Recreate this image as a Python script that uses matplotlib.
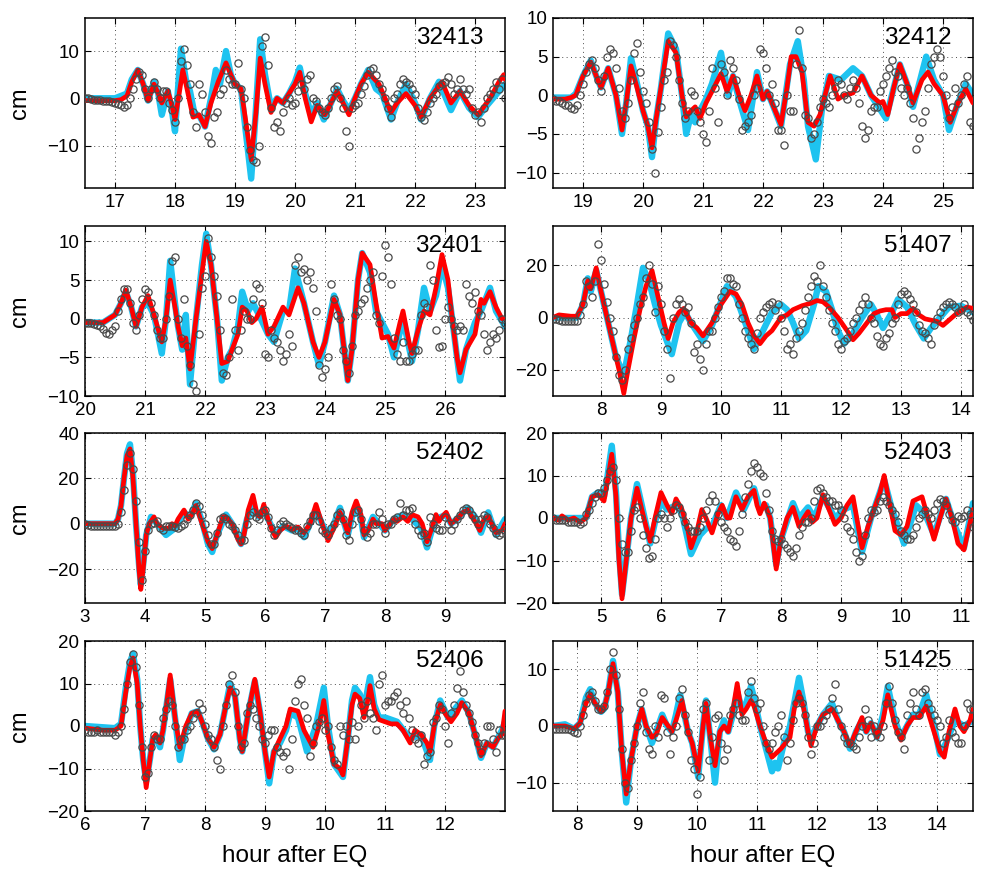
import numpy as np
import matplotlib
matplotlib.use("Agg")
import matplotlib.pyplot as plt

plt.rcParams['font.family'] = ['Liberation Sans', 'DejaVu Sans']

# ---------------- DATA ----------------
stations = ["32413", "32412", "32401", "51407", "52402", "52403", "52406", "51425"]
xlims = [(16.5, 23.5), (18.5, 25.5), (20, 27), (7.2, 14.2), (3, 10), (4.2, 11.2), (6, 13), (7.6, 14.6)]
ylims = [(-19, 17), (-12, 10), (-10, 12), (-30, 35), (-35, 40), (-20, 20), (-20, 20), (-15, 15)]
xticks = [list(range(17, 24)), list(range(19, 26)), list(range(20, 27)), list(range(8, 15)),
          list(range(3, 10)), list(range(5, 12)), list(range(6, 13)), list(range(8, 15))]
yticks = [[-10, 0, 10], [-10, -5, 0, 5, 10], [-10, -5, 0, 5, 10], [-20, 0, 20],
          [-20, 0, 20, 40], [-20, -10, 0, 10, 20], [-20, -10, 0, 10, 20], [-10, 0, 10]]

obs_dt = 0.05  # hours between plotted observation samples
obs_start = [16.5, 18.5, 20.0, 7.2, 3.0, 4.2, 6.0, 7.6]

# --- 32413 ---
red_t_32413 = [16.5, 16.8, 17.0, 17.1, 17.2, 17.28, 17.38, 17.47, 17.55, 17.65, 17.72, 17.78, 17.88, 17.94, 18.0, 18.07, 18.13, 18.2, 18.3, 18.4, 18.5, 18.6, 18.72, 18.85, 18.93, 19.0, 19.1, 19.17, 19.27, 19.35, 19.42, 19.5, 19.6, 19.7, 19.8, 19.9, 20.0, 20.08, 20.17, 20.27, 20.37, 20.5, 20.6, 20.7, 20.8, 20.9, 21.0, 21.1, 21.22, 21.4, 21.5, 21.6, 21.7, 21.85, 22.0, 22.1, 22.25, 22.45, 22.6, 22.75, 22.9, 23.05, 23.25, 23.4, 23.48, 23.5]
red_v_32413 = [-0.5, -0.5, -0.5, -0.3, 0.5, 3.5, 6, 3, -0.5, 3, 1, -1, 1.5, -1, -4.5, 1, 6, 2, -4, -3.5, -6, -1, 3.5, 7.5, 5, 3, 2, -4, -13, -3, 8.5, 3, -3, 0, -1, 1, 3, 5.5, 0, -5, -1.5, -3.5, -1, 1.5, -1, -3.5, 0, 3, 5.5, 3, 0, -3, -1, 1, -1.5, -4, 0, 3.5, -1, 1.5, -1.5, -3.5, 0, 3.5, 5, 4]
cyan_t_32413 = [16.5, 17.0, 17.1, 17.2, 17.28, 17.38, 17.47, 17.55, 17.65, 17.72, 17.78, 17.88, 17.94, 18.0, 18.05, 18.1, 18.18, 18.25, 18.32, 18.42, 18.5, 18.6, 18.68, 18.75, 18.85, 18.93, 19.0, 19.1, 19.17, 19.27, 19.34, 19.42, 19.5, 19.6, 19.7, 19.8, 19.9, 20.0, 20.08, 20.17, 20.27, 20.37, 20.48, 20.6, 20.7, 20.8, 20.9, 21.0, 21.1, 21.22, 21.35, 21.45, 21.6, 21.7, 21.85, 22.0, 22.1, 22.25, 22.4, 22.6, 22.75, 22.9, 23.05, 23.2, 23.3, 23.5]
cyan_v_32413 = [0, 0, 0.5, 1, 4, 6, 3, -0.5, 3.5, 1, -3.5, 1.5, -2, -7, 2, 10.5, 4, 1.5, -3, -4, -6, 0, 6, 3, 10, 5, 3, 2, -6, -17, -4, 12.5, 5, -2, 0, -1, 1, 3.5, 6.5, 1, -3.5, -1, -4.5, -1, 2, -0.5, -2.5, 0, 3, 6, 2, 1, -4.5, -1, 3, -1, -4.5, 0, 3.5, -2.5, 1.5, -2, -4, -1.5, 0, 3]
obs_32413 = [0, 0, -0.2, -0.3, -0.3, -0.4, -0.5, -0.5, -0.6, -0.8,
             -1, -1.3, -1.5, -1.8, -1.5, 0, 2, 4, 5.5, 5,
             2, 0, 2, 3.5, 2, 0, 1.5, 1.5, -1, -2.5,
             -5, 0, 8, 10.5, 7, 3, -3, -6, 3, 1,
             -3, -8, -9.5, -4, -3, 1, 2, 6, 4, 3,
             3, 7.5, 2, 0, -6, -11, -13, -13.5, -10, 11,
             13, 7, -2, -6, -5, -7, -3, -1, 0, -1.5,
             -1, 1.5, 3, 2, 4, 5, 0, -0.5, -2, -3,
             -3.5, -2, 0, 2, 2.5, 0, -2, -7, -10, -2,
             -1.5, -1, 1, 2.5, 5, 6, 6.5, 5, 3, 2,
             0, -2, -4, 0, 1, 3, 4, 3.5, 3, 2,
             1, -2, -4, -4.5, -3, -1, 0, 1, 2.5, 3,
             3.5, 4.5, 3, 1, 2, 4, 2, 1, 2, -2,
             -3.5, -3, -5, -2, 0, 1, 2, 3.5, 2, 4,
             0]

# --- 32412 ---
red_t_32412 = [18.5, 18.7, 18.8, 18.88, 19.0, 19.13, 19.22, 19.3, 19.42, 19.55, 19.65, 19.72, 19.8, 19.9, 20.0, 20.08, 20.15, 20.22, 20.3, 20.42, 20.55, 20.65, 20.72, 20.8, 20.87, 20.95, 21.05, 21.15, 21.3, 21.4, 21.5, 21.6, 21.7, 21.8, 21.9, 22.0, 22.07, 22.15, 22.3, 22.4, 22.47, 22.55, 22.65, 22.75, 22.85, 22.95, 23.05, 23.12, 23.25, 23.35, 23.5, 23.65, 23.8, 23.95, 24.0, 24.08, 24.18, 24.28, 24.4, 24.5, 24.65, 24.75, 24.85, 25.0, 25.12, 25.25, 25.38, 25.5]
red_v_32412 = [-0.5, -0.5, -0.3, 0, 2.5, 4.3, 2.5, 1, 3.5, 0, -4.5, -1, 3.8, 1, -2, -4, -6.8, -3, 1, 7, 5.5, 0, -2.8, -2, -1.5, -3, -1, 0.5, 2.8, 0.5, 2.5, 0, -2, 0, 2.5, -0.5, 0.5, -1, -3.8, 1, 5, 5, 3, -3.5, -4, -2.5, 0.5, 2.5, -0.5, 0, 0.3, 2.5, 0, -1, -0.8, -2.5, 1, 4, 1.5, -1, 2, 3, 1.5, 0, -3.5, -1, 0.8, -1]
cyan_t_32412 = [18.5, 18.8, 18.88, 19.0, 19.13, 19.22, 19.3, 19.42, 19.55, 19.65, 19.72, 19.8, 19.9, 20.0, 20.08, 20.15, 20.22, 20.3, 20.42, 20.55, 20.65, 20.72, 20.8, 20.87, 20.95, 21.05, 21.15, 21.3, 21.42, 21.5, 21.6, 21.75, 21.9, 22.0, 22.07, 22.15, 22.3, 22.45, 22.58, 22.68, 22.75, 22.88, 22.98, 23.1, 23.3, 23.5, 23.65, 23.8, 24.05, 24.18, 24.28, 24.4, 24.5, 24.62, 24.72, 24.85, 25.0, 25.1, 25.25, 25.38, 25.5]
cyan_v_32412 = [-0.3, -0.3, 0.2, 2.5, 4.5, 2.5, 1, 3.5, 0, -5, -1, 4.8, 1.5, -2, -4, -8, -3, 1, 8, 6, 0, -5, -2.5, -3.5, -2, -0.5, 1.5, 5.5, 0, 2.5, -0.5, -4.5, 3, -0.5, 0.5, -1, -4, 4, 7, 2, -4, -8.3, -2, 2.5, 2, 3.5, 2.5, 0, -3, 1, 4, 1.5, -1.5, 2, 5, 2, 0, -4.5, -1, 1.5, 0]
obs_32412 = [-0.5, -0.7, -0.8, -1, -1.2, -1.3, -1.7, -1.8, -1.3, 0,
             1.5, 3, 4, 4.5, 3.5, 2, 0.5, 2.5, 5, 6,
             5.5, 3.5, 1, -2, -3, -1, 2, 5.5, 6.8, 3,
             0.5, -1, -3.5, -7, -10, -4.7, -1.5, 2, 3, 7,
             6.5, 5, 2, -1, -3, -2, 0.5, 0, -2, -3.5,
             -5, -6, -2, 3.5, 1, -3.5, 4, 3, 0, 4.5,
             3.5, 2, -0.5, -4.5, -4, -3.5, -2.5, 0, 1, 6,
             5.5, 3.5, 0, 1.5, -1, -4.5, -4.5, -6.5, 0, -2,
             -2, 4, 8.5, 3.5, -2.5, -3, -5.5, -5, -3.5, -1.5,
             -0.5, -1, -1.5, 0, 1, 2, 1.5, 0, -0.5, 1,
             2, 1, -1, -4, -5.5, -4.5, -2, -1.5, -1.5, 0.5,
             1.5, 2.5, 3.5, 4.5, 3, 2.5, 1, 0, 1, -1,
             -3, -7, -5.5, -3.5, -2, 1, 4, 5, 6, 5,
             2.5, 0, -3, -1.5, 1, -1, 0, 1.5, 2.5, -3.5,
             -4]

# --- 32401 ---
red_t_32401 = [20.0, 20.3, 20.4, 20.5, 20.6, 20.68, 20.77, 20.85, 20.95, 21.05, 21.15, 21.28, 21.35, 21.42, 21.5, 21.55, 21.62, 21.68, 21.75, 21.85, 21.95, 22.02, 22.1, 22.2, 22.28, 22.38, 22.45, 22.55, 22.62, 22.7, 22.78, 22.85, 22.95, 23.05, 23.15, 23.3, 23.4, 23.55, 23.65, 23.8, 23.9, 24.0, 24.15, 24.25, 24.38, 24.45, 24.55, 24.62, 24.75, 24.85, 24.95, 25.05, 25.15, 25.25, 25.3, 25.4, 25.45, 25.55, 25.65, 25.75, 25.85, 25.95, 26.05, 26.12, 26.2, 26.25, 26.35, 26.5, 26.6, 26.65, 26.75, 26.85, 26.95, 27.0]
red_v_32401 = [-0.5, -0.5, 0, 0.5, 2, 3.7, 1.5, -1, 1.5, 3, 0.5, -3, 0, 5, 1.5, -1, -3.5, -2.5, -6.5, 0, 6, 10, 7, 0, -5.8, -5.5, -4, -2, 1.5, 1, -0.5, 0, 1.5, -2, -1, 1.5, 0.5, 4, 2, -3, -5, -3, 2.5, 0.5, -8, -4, 5, 8.5, 7, 2, -2.5, -2.3, -3.8, -0.5, 1, -3, -4.5, -1.5, 1, 0.5, 4, 8.3, 5, 0, -5, -7, -4, -2, 2.5, 2, 3.5, 1.5, 0, 0]
cyan_t_32401 = [20.0, 20.3, 20.4, 20.5, 20.6, 20.68, 20.77, 20.85, 20.95, 21.05, 21.15, 21.28, 21.35, 21.42, 21.5, 21.55, 21.62, 21.68, 21.75, 21.85, 21.95, 22.02, 22.1, 22.2, 22.28, 22.38, 22.45, 22.55, 22.62, 22.72, 22.8, 22.9, 23.05, 23.15, 23.3, 23.4, 23.5, 23.65, 23.8, 23.9, 24.0, 24.15, 24.25, 24.38, 24.45, 24.55, 24.62, 24.75, 24.85, 24.95, 25.05, 25.15, 25.3, 25.45, 25.55, 25.65, 25.75, 25.85, 25.95, 26.05, 26.12, 26.2, 26.25, 26.35, 26.5, 26.6, 26.75, 26.85, 27.0]
cyan_v_32401 = [-0.5, -0.5, 0, 0.5, 2, 3.5, 1.5, -1, 1.5, 2, 0.5, -4.5, 0, 7.5, 2, -1, -4, 0.5, -8.5, 0, 7, 11, 7, 0, -8, -5, -4, -1, 3.5, 1, 2, 0.5, -2, -3, 1, 1, 6.5, 2, -3, -6, -3, 3, 0.5, -8, -4, 5, 8.5, 6, 1, -0.5, -2, -5, 0, -5.5, -1.5, 4, 1, 3, 7, 4, 0, -5, -8, -4, -0.5, 1, 4, 1, -1]
obs_32401 = [-0.5, -0.5, -0.5, -0.7, -0.8, -1, -1.3, -1.8, -2, -1.5,
             -1, 1, 2.5, 3.8, 3.8, 2, -0.5, -1.5, 0.5, 2.5,
             3.8, 3.5, 2, 0.5, -1.5, -2.5, -2.5, 0, 3, 7.5,
             8, 0, -2.5, 2.5, -3.5, -6, -8.5, -9.3, -2, 4,
             5.5, 10.5, 8, 5.5, 3, -1.5, -7, -7.3, -5, 2.5,
             -1.5, -4, -1.5, 1, 0, 0, 2.5, 4.5, 4, 2,
             -4.5, -5, -1.5, -2.5, -3, -4, -5.5, -4.5, -2, -3.5,
             7, 8, 6, 6.5, 5, 6, 4, 1, -6, -7.5,
             -6.5, -5, 4.5, 2.5, 0.5, 0, -4, -5.5, -7, -3.5,
             0.5, 1, 2, 2.5, 4, 5, 6, 0.5, -0.5, 5.5,
             9.5, 8, 4.5, -2.5, -4.5, -5.5, -3, -5.5, -5.5, -4.5,
             -4, -4, 0.5, 2, 1.5, 7, 5, -1.5, -3.7, -3.5,
             0, 1.5, 0, -1, -1.5, -1, -1.5, 4.5, 3, 2,
             3.5, 1, 0.5, -2, -4, -3, -2, -2.5, -1.5, 0,
             -0.5]

# --- 51407 ---
red_t_51407 = [7.2, 7.3, 7.5, 7.6, 7.7, 7.78, 7.83, 7.92, 8.0, 8.1, 8.2, 8.3, 8.38, 8.45, 8.55, 8.65, 8.75, 8.85, 8.95, 9.05, 9.12, 9.2, 9.3, 9.38, 9.5, 9.6, 9.7, 9.85, 10.0, 10.15, 10.25, 10.35, 10.45, 10.55, 10.65, 10.75, 10.85, 11.0, 11.1, 11.2, 11.35, 11.5, 11.6, 11.7, 11.8, 11.95, 12.1, 12.2, 12.3, 12.45, 12.55, 12.65, 12.75, 12.85, 12.9, 13.0, 13.1, 13.2, 13.3, 13.4, 13.5, 13.6, 13.7, 13.8, 13.9, 14.0, 14.1, 14.2]
red_v_51407 = [0, 1, 0.5, 0.5, 5, 14, 11, 19, 10, 0, -10, -20, -29, -20, -8, 3, 12, 18, 8, -2, -8, -2, 2, 3.5, -2, -4, -7, -2, 5, 10, 9, 5, -2, -7, -10, -7, -5, 0, 1, 3, 4.5, 5.5, 6.5, 6, 4, 0, -5, -8.5, -6, -1.5, 1.5, 2.5, 3, 3, 0, 1.5, 1.5, 3.5, 1, -0.5, -1, -1.5, -3, -1, 1, 2.5, 4, 3.5]
cyan_t_51407 = [7.2, 7.6, 7.7, 7.78, 7.83, 7.92, 8.1, 8.25, 8.38, 8.5, 8.6, 8.7, 8.8, 8.9, 9.0, 9.18, 9.3, 9.4, 9.5, 9.7, 9.85, 10.0, 10.1, 10.25, 10.45, 10.55, 10.7, 10.85, 11.0, 11.1, 11.2, 11.3, 11.42, 11.55, 11.62, 11.75, 11.85, 11.95, 12.05, 12.2, 12.35, 12.5, 12.6, 12.7, 12.85, 12.95, 13.1, 13.25, 13.38, 13.5, 13.65, 13.8, 14.0, 14.2]
cyan_v_51407 = [0, 0, 5, 15, 10, 18, 0, -15, -22, -8, 5, 19, 14, 5, -3, -14, -2, 2, -2, -9, -3, 6, 12, 8, -5, -12, -5, 2, 5, 3, -2, -8, -5, 5, 12, 10, 3, -5, -10, -6, 0, 5, 1, -4, 2, 7, 4, -3, -8, -4, 0, 4, 4.5, 2]
obs_51407 = [-0.5, -0.7, -1, -1.2, -1.3, -1.5, -1.5, -1.5, -1.2, 1,
             5, 14, 12, 8, 14, 28, 22, 13, 6, 0,
             -5, -15, -22, -24, -20, -12, -8, -3, 0, 5,
             8, 15, 20, 13, 2, 12, 5, -5, -12, -23,
             0, 5, 7, 5, 2, 4, -2, -13, -10, -16,
             -20, -10, -5, -5, 0, 4, 8, 10, 15, 15,
             13, 12, 5, 0, -5, -8, -10, -12, -6, 0,
             2, 4, 5, 6, 3, 5, 0, -5, -12, -10,
             -14, -8, -5, -2, 3, 8, 12, 16, 14, 20,
             12, 8, 3, -2, -5, -10, -12, -9, -8, -5,
             -2, 0, 3, 5, 8, 5, 0, -2, -7, -10,
             -11, -8, -6, -2, 0, 5, 9, 10, 9, 7,
             5, 2, -3, -5, -6, -8, -10, -3, 0, 2,
             4, 5, 6, 5, 4, 2, 3, 5, 2, 1,
             -1]

# --- 52402 ---
red_t_52402 = [3.0, 3.5, 3.55, 3.6, 3.65, 3.7, 3.75, 3.8, 3.85, 3.9, 3.93, 3.97, 4.02, 4.07, 4.15, 4.2, 4.3, 4.4, 4.45, 4.5, 4.55, 4.65, 4.72, 4.78, 4.85, 4.95, 5.05, 5.12, 5.2, 5.3, 5.35, 5.45, 5.55, 5.6, 5.65, 5.72, 5.8, 5.87, 5.92, 5.98, 6.05, 6.12, 6.18, 6.25, 6.35, 6.45, 6.55, 6.65, 6.75, 6.85, 6.95, 7.05, 7.15, 7.25, 7.3, 7.38, 7.45, 7.52, 7.6, 7.65, 7.72, 7.8, 7.85, 7.95, 8.0, 8.05, 8.15, 8.2, 8.3, 8.38, 8.45, 8.55, 8.62, 8.7, 8.78, 8.85, 8.9, 8.95, 9.02, 9.1, 9.2, 9.3, 9.38, 9.45, 9.52, 9.58, 9.65, 9.72, 9.8, 9.85, 9.95, 10.0]
red_v_52402 = [0, 0, 2, 8, 20, 30, 33, 20, 0, -20, -29, -20, -5, 0, 3, 0, -2, -2, 0, -1, 2, 6, 2, 4, 8, 0, -8, -11, -5, 3, 3, 0, -7, -9, -5, 6, 12.5, 4, 3, 8.5, 2, -3, -6, -3, -1, -2.5, -1.5, -4, 0, 8.5, 0, -7.5, -2, 5, 2, -4, 5, 10, 4, -5, -3, 2, 0, 0, -3, -1, 2, 1, 3, 1, 4, 3, 0, -8, -2, 4, 1, 3, 5, 0, 2, 5, 6, 3, 0, -3, 2, 3, -1, -4, -3, 0]
cyan_t_52402 = [3.0, 3.5, 3.55, 3.6, 3.65, 3.7, 3.75, 3.8, 3.85, 3.9, 3.93, 3.97, 4.02, 4.1, 4.2, 4.35, 4.45, 4.5, 4.65, 4.75, 4.85, 4.95, 5.05, 5.12, 5.2, 5.35, 5.45, 5.6, 5.7, 5.8, 5.9, 5.98, 6.05, 6.18, 6.3, 6.45, 6.55, 6.65, 6.75, 6.85, 6.95, 7.05, 7.15, 7.25, 7.3, 7.38, 7.45, 7.52, 7.6, 7.65, 7.72, 7.8, 7.9, 8.0, 8.15, 8.3, 8.45, 8.6, 8.7, 8.78, 8.85, 9.02, 9.1, 9.2, 9.38, 9.5, 9.6, 9.72, 9.85, 10.0]
cyan_v_52402 = [0, 0, 2, 8, 20, 31, 35, 22, 0, -18, -27, -18, -5, 3, 0, -5, -3, -2, 5, 3, 9, 1, -9, -12.5, -5, 4, 0, -9, 2, 7, 3, 6, 2, -5, -1, -3, -2, -6, 0, 6, 0, -5, 0, 7, 2, -5, 3, 8, 2, -6, -2, 3, 0, -3, 2, 4, 2, -2, -10.5, -3, 2, 4, 0, 2, 7, 3, -4, 5, -5, 2]
obs_52402 = [0, -0.5, -1, -1, -1, -1, -1, -1, -1, -1,
             -1, 0, 5, 15, 26, 31, 24, 10, -8, -25,
             -12, -3, 0, 0.5, 1, -2, -3, -1, -1, -1,
             -1.5, -2, -1, 0, 2, 4, 6, 9, 8, 4,
             0, -5, -9, -9, -4, 2, 3, 2, 0, -1,
             -3, -5, -7, -7, 0, 4, 5, 3, 2, 5,
             6, 3, -2, -5, -3, 0, 1, 0, -1, -2,
             -3, -3, -4, -5, -1, 1, 4, 4, 1, -3,
             -4, -5, -2, 0, 4, 5, 2, -5, -7, 0,
             5, 6, 2, -3, -6, -4, 0, 0, 5, 2,
             -4, 0, 0, 2, 3, 9, 4, 6, 6, 7,
             0, -3, -5, -4, -8, 3, 0, -2, -3, -3,
             3, 0, -3, 0, 2, 4, 6, 7, 6, 4,
             2, 0, 2, 4, 3, 0, -2, -4, -5, -4,
             -3]

# --- 52403 ---
red_t_52403 = [4.2, 4.3, 4.35, 4.45, 4.55, 4.65, 4.75, 4.85, 4.95, 5.05, 5.1, 5.18, 5.25, 5.3, 5.35, 5.42, 5.5, 5.6, 5.68, 5.75, 5.82, 5.9, 6.0, 6.1, 6.18, 6.25, 6.35, 6.45, 6.5, 6.6, 6.68, 6.75, 6.85, 6.95, 7.02, 7.1, 7.15, 7.25, 7.35, 7.45, 7.55, 7.6, 7.65, 7.72, 7.82, 7.92, 8.0, 8.1, 8.2, 8.3, 8.38, 8.45, 8.52, 8.6, 8.7, 8.8, 8.9, 9.0, 9.1, 9.2, 9.3, 9.35, 9.45, 9.55, 9.65, 9.72, 9.8, 9.9, 10.0, 10.1, 10.2, 10.35, 10.45, 10.55, 10.65, 10.75, 10.85, 10.95, 11.05, 11.12, 11.2]
red_v_52403 = [0, -0.5, 0.5, -0.5, 0, -1, 0, 5, 5.5, 4, 8, 15, 5, -10, -19, -10, 0, 7, 2, -2, -5.5, 0, 6, 3, 1, 4.5, 2, -3, -7, -3, 2, 0, -3.5, 1, 3, 0, 0, 5, 2, 5, 6.5, 3, 1, 3.5, 0, -12, -5, 0, 2.5, -2, 0, 1.5, -1, 0, 5.5, 2, -1.5, 0, 3, 5, -3, -7, -2, 2, 6, 10, 4, -3, -4, -2, 4, 5, 0, -5, 0, 4.5, 0, -6, -7.5, -3, 2]
cyan_t_52403 = [4.2, 4.75, 4.85, 4.95, 5.05, 5.1, 5.18, 5.25, 5.3, 5.35, 5.42, 5.5, 5.6, 5.68, 5.82, 5.9, 6.0, 6.1, 6.25, 6.35, 6.5, 6.65, 6.75, 6.85, 7.0, 7.1, 7.25, 7.38, 7.55, 7.65, 7.75, 7.82, 7.92, 8.0, 8.2, 8.3, 8.45, 8.55, 8.7, 8.9, 9.05, 9.2, 9.35, 9.5, 9.72, 9.85, 10.05, 10.25, 10.4, 10.55, 10.75, 10.9, 11.05, 11.2]
cyan_v_52403 = [0, 0, 5, 6, 5, 9, 17, 6, -8, -18, -10, 0, 8, 3, -6, -1, 4, 2, 3, 1, -8.5, -4, -2.5, -2, 3, 0, 6, 2, 7, 2, 3, 0, -11, -5, 3.5, 0, 2.5, 0, 5, 0, 2, 3, -8, 0, 9, 2, -6, 3, 1, -4, 4.5, -2, -7, 3.5]
obs_52403 = [0, -0.5, -0.5, -0.5, -0.5, -1, -1, -1, -1, -1.5,
             -1, 1, 2, 3.5, 5, 6, 6, 7, 9, 11,
             12, 9, 0, -6, -8, -8, -3, 2, 2.5, 0,
             -4, -7, -9.5, -9, -5, 0, 1, 0, -2, 0,
             2, 3, 2.5, 1, -1, -2, -3, -3, -3, -2,
             0, 2, 4, 5.5, 4, 1, -1, -2, -3, -5,
             -5.5, -6.5, -3, 1, 5, 8, 11, 13, 12, 10.5,
             10, 6, 2, -3, -5, -5.5, -5, -6, -7, -8,
             -9, -7, -4, -2, -1, -1, 0, 4, 6.5, 7,
             6, 5, 4, 4, 3, 3, 2, 0, -2, -3,
             -5, -8, -10, -9, -4, 0, 2, 1.5, 2, 4,
             5, 4, 3, 2, 1, -1, -3, -4, -5, -5,
             -4, -2, 0, 1, 2, 1, 0, 2, 3.5, 4.5,
             4, 3, 1, -0.5, -1, 0.5, 0, 0.5, 2, 1,
             -2]

# --- 52406 ---
red_t_52406 = [6.0, 6.3, 6.5, 6.6, 6.68, 6.75, 6.8, 6.87, 6.92, 6.97, 7.02, 7.08, 7.13, 7.18, 7.25, 7.3, 7.35, 7.42, 7.5, 7.58, 7.68, 7.78, 7.88, 7.95, 8.05, 8.15, 8.25, 8.35, 8.42, 8.5, 8.58, 8.62, 8.72, 8.83, 8.92, 9.0, 9.07, 9.15, 9.25, 9.35, 9.42, 9.55, 9.65, 9.8, 9.9, 9.98, 10.05, 10.15, 10.25, 10.3, 10.38, 10.45, 10.5, 10.58, 10.65, 10.7, 10.75, 10.82, 10.9, 11.0, 11.1, 11.2, 11.3, 11.38, 11.42, 11.5, 11.6, 11.7, 11.75, 11.82, 11.92, 12.0, 12.1, 12.2, 12.28, 12.4, 12.5, 12.6, 12.7, 12.8, 12.88, 12.95, 13.0]
red_v_52406 = [-0.5, -1, -1, 0, 8, 14, 16, 10, 0, -8, -14.5, -8, -3, -2, -4, -1, 4, 12, 2, -5, 0, 3, 3.5, 1, -3, -5, -2, 5, 9, 7, -3, -6, 3, 11, 3, -6, -12, -6, -3, 0, 4, 3.5, -1, -5, 0, 6, -2, -9, -10, -11.5, -3, 5, 7.5, 6.5, 2, 5, 9.5, 4, 1.5, 1, 0.5, 0.5, -1, -3, -4, -1, -2, -4, -6, 0, 5, 3, 1, 3, 5.5, 3, -2, -7, -4, -5, -3, -2, 3.5]
cyan_t_52406 = [6.0, 6.5, 6.6, 6.68, 6.75, 6.8, 6.87, 6.92, 6.97, 7.02, 7.08, 7.13, 7.18, 7.25, 7.3, 7.35, 7.42, 7.5, 7.58, 7.68, 7.78, 7.88, 7.95, 8.05, 8.15, 8.25, 8.35, 8.42, 8.5, 8.58, 8.62, 8.72, 8.83, 8.92, 9.0, 9.07, 9.15, 9.25, 9.35, 9.42, 9.55, 9.7, 9.85, 9.98, 10.05, 10.15, 10.3, 10.38, 10.45, 10.5, 10.58, 10.65, 10.75, 10.82, 10.9, 11.0, 11.2, 11.42, 11.6, 11.75, 11.82, 11.92, 12.05, 12.28, 12.4, 12.5, 12.6, 12.7, 12.8, 12.95, 13.0]
cyan_v_52406 = [0, -0.5, 0.5, 9, 15, 17, 11, 0, -8, -13, -8, -3, -2.5, -5, -1, 4, 11, 2, -8, -1, 3, 3.5, 1, -3, -5.5, -2, 5, 10, 7, -3, -6, 3, 10.5, 3, -6, -13.5, -6, -4, -1, 3, 2, -6, 0, 9, 0, -9, -12, -3, 6, 9, 7.5, 4, 11.5, 5, 2, 2, 1, -3, -2, -8, 0, 6, 2, 6, 3, -2, -7.5, -4, -5, -1, 1]
obs_52406 = [-1, -1.5, -1.5, -1.5, -1, -1.5, -1.5, -1.5, -1.5, -1.5,
             -2, -1.5, 0, 4, 10, 15, 17, 14, 5, -5,
             -12, -11, -5, -2, -3, -3, 2, 4, 6, 5,
             0, -5, -3, -3, -1, 0, 2, 3, 5.5, 4,
             0, -2, -3, -5, -8, -10, 0, 5, 10, 12,
             8, 0, -5, -4, 3, 5, 4, 2, 0, -3,
             -4, -2, -1, -1, -5, -6, -7, -6, -10, -3,
             6, 10, 11, 5, 2, -7, -4, 0, 1, 2,
             -1, 0, -5, -8, -9, 0, -2, 0, -3, 1,
             -3, 0, 5, 2, 6, 3, 2, -1, 10, 12,
             5, 6, 6, 7, 8, 5, 3, 6, 2, -1,
             -3, -4, -2, -9, -7, -6, 1, 2, 5, 4,
             0, -4, 3, 5, 9, 13, 8, 5, 3, 1,
             -2, -4, -6, -4, 0, 0, -3, -6, -1, -2,
             -2]

# --- 51425 ---
red_t_51425 = [7.6, 7.8, 7.95, 8.05, 8.15, 8.22, 8.3, 8.4, 8.45, 8.52, 8.6, 8.68, 8.75, 8.82, 8.9, 9.0, 9.08, 9.15, 9.25, 9.32, 9.42, 9.52, 9.58, 9.65, 9.75, 9.85, 9.92, 10.02, 10.1, 10.15, 10.22, 10.3, 10.38, 10.45, 10.52, 10.6, 10.67, 10.75, 10.82, 10.9, 10.95, 11.05, 11.15, 11.25, 11.4, 11.55, 11.62, 11.7, 11.78, 11.85, 11.9, 12.0, 12.1, 12.25, 12.35, 12.45, 12.55, 12.65, 12.75, 12.82, 12.9, 13.0, 13.1, 13.18, 13.3, 13.4, 13.5, 13.6, 13.7, 13.82, 13.95, 14.05, 14.12, 14.2, 14.3, 14.38, 14.45, 14.55, 14.6]
red_v_51425 = [0, 0, -0.5, 0.5, 4, 5.5, 4, 2.5, 3, 6, 11, 6, -5, -12, -6, 0, 3, 0, -2, -1.5, 1.5, 0, -1, 1, 4.5, -1, -3, -8, 0, 4, -2, -7, -1, 0, -1, 3, 7.5, 2, 3, 4.5, 3.5, 0, -3, -5.5, -4, -2, 3, 6, 3, -1, -3.5, 0, 2, 3, 1, -1, -3.5, -1, 1.5, -1, 0.5, -2, 1, 5.5, 0, -2.5, 0, 1.5, 1.5, 3.5, -1, -4.5, -5.5, -1, 3, 0, -1, 1, 3]
cyan_t_51425 = [7.6, 7.8, 7.95, 8.05, 8.15, 8.22, 8.3, 8.4, 8.45, 8.52, 8.6, 8.68, 8.75, 8.82, 8.9, 9.0, 9.08, 9.15, 9.25, 9.32, 9.42, 9.5, 9.58, 9.65, 9.72, 9.85, 9.92, 10.02, 10.1, 10.15, 10.22, 10.3, 10.38, 10.45, 10.52, 10.6, 10.67, 10.75, 10.82, 10.9, 10.95, 11.05, 11.15, 11.25, 11.3, 11.35, 11.45, 11.55, 11.62, 11.7, 11.78, 11.85, 11.9, 12.0, 12.1, 12.25, 12.35, 12.45, 12.55, 12.65, 12.75, 12.82, 12.9, 13.0, 13.1, 13.18, 13.3, 13.4, 13.5, 13.6, 13.7, 13.82, 13.95, 14.05, 14.15, 14.3, 14.45, 14.6]
cyan_v_51425 = [0, 0.3, -0.5, 0.5, 5, 6.5, 4, 2.5, 3, 6, 11.5, 6, -5, -13.5, -6, 0, 3, 0, -3, -1, 2, 0, -1, 2, 5.5, -1, -3, -9, 0, 4.5, -2, -10, -1, 1, -1, 2, 6, 3, 4, 7, 5, 0, -4, -8, -6.5, -7.5, -3, 0, 4, 8.5, 4, -1, -2, 0, 2, 4, 1, -1, -4, -1, 1, -1, 0.5, -2, 2, 7, 1, -2, 0, 2, 2, 5.5, 0, -5, -3, 1, 0, 1]
obs_51425 = [-0.5, -0.5, -0.5, -0.5, -0.5, -0.6, -0.7, -1, -1.2, 0,
             2, 4, 5.5, 6, 4.5, 3, 3, 3.5, 6, 10,
             13, 9, 3, -4, -10, -11, -6, -3, 0, 4,
             6, -1, -4, -5, 0, -2, 5.5, 5, -1, -5,
             -2, 0, 5, 6.5, 2, -1, -6, -7.5, -12, -9,
             3, 4, -6, -2, 1.5, 2, -3, -6, -4, 2,
             3, 4, 2, 1, 1, 6, 8, 5, 3, 4,
             0, -3, -4, -3, -1, 0, 2, -2, -6, -3,
             1, 4, 5, 4, 2, -2, -5, -3, 0, 0,
             1, 2, 3, 5, 7.5, 3, 0, -2, -3, -3,
             -3.5, -4, -2, 0, 3, 1, -2, 0, -1, -2,
             0, 4, 7, 4, 1, -1, -2, -4, 2, 4,
             6, 3, 2, 6, 6.5, 4, 3, 2, 1, 0,
             -3, -2, 1, -1, -2, -3, -3, 0, 4, 3,
             3]

red_t = [red_t_32413, red_t_32412, red_t_32401, red_t_51407, red_t_52402, red_t_52403, red_t_52406, red_t_51425]
red_v = [red_v_32413, red_v_32412, red_v_32401, red_v_51407, red_v_52402, red_v_52403, red_v_52406, red_v_51425]
cyan_t = [cyan_t_32413, cyan_t_32412, cyan_t_32401, cyan_t_51407, cyan_t_52402, cyan_t_52403, cyan_t_52406, cyan_t_51425]
cyan_v = [cyan_v_32413, cyan_v_32412, cyan_v_32401, cyan_v_51407, cyan_v_52402, cyan_v_52403, cyan_v_52406, cyan_v_51425]
obs_v = [obs_32413, obs_32412, obs_32401, obs_51407, obs_52402, obs_52403, obs_52406, obs_51425]

# ---------------- FIGURE ----------------
W, H = 984, 875
fig = plt.figure(figsize=(W / 100, H / 100), dpi=100)

col_left = [85, 553]
col_w = 420
row_bottom = [188, 396, 603, 811]
row_h = 170

CYAN = '#1ec3f0'
RED = '#ff0000'
GREY = '#4a4a4a'

for i in range(8):
    r, c = divmod(i, 2)
    x0 = col_left[c] / W
    y0 = 1 - row_bottom[r] / H
    ax = fig.add_axes([x0, y0, col_w / W, row_h / H])
    ax.plot(cyan_t[i], cyan_v[i], color=CYAN, lw=4.6, solid_joinstyle='round', solid_capstyle='round', zorder=2)
    ax.plot(red_t[i], red_v[i], color=RED, lw=3.4, solid_joinstyle='round', solid_capstyle='round', zorder=3)
    ot = obs_start[i] + obs_dt * np.arange(len(obs_v[i]))
    ax.plot(ot, obs_v[i], linestyle='none', marker='o', ms=5.2, mfc='none', mec=GREY, mew=0.9, zorder=4)
    ax.set_xlim(*xlims[i])
    ax.set_ylim(*ylims[i])
    ax.set_xticks(xticks[i])
    ax.set_yticks(yticks[i])
    ax.set_yticklabels([str(v).replace('-', '\u2212') for v in yticks[i]])
    ax.tick_params(direction='in', length=4, width=0.8, top=True, right=True,
                   labelsize=13.5, pad=4)
    ax.grid(True, color='0.3', linestyle=(0, (1, 3.5)), linewidth=0.7)
    ax.set_axisbelow(True)
    for sp in ax.spines.values():
        sp.set_linewidth(1.1)
    ax.text(0.948, 0.885, stations[i], transform=ax.transAxes, ha='right', va='center',
            fontsize=17.5, zorder=5)
    if c == 0:
        ax.set_ylabel('cm', fontsize=17)
        ax.yaxis.set_label_coords(-0.128, 0.5)
    if r == 3:
        ax.set_xlabel('hour after EQ', fontsize=17.5)
        ax.xaxis.set_label_coords(0.5, -0.2)

fig.savefig('out.png', dpi=100)
